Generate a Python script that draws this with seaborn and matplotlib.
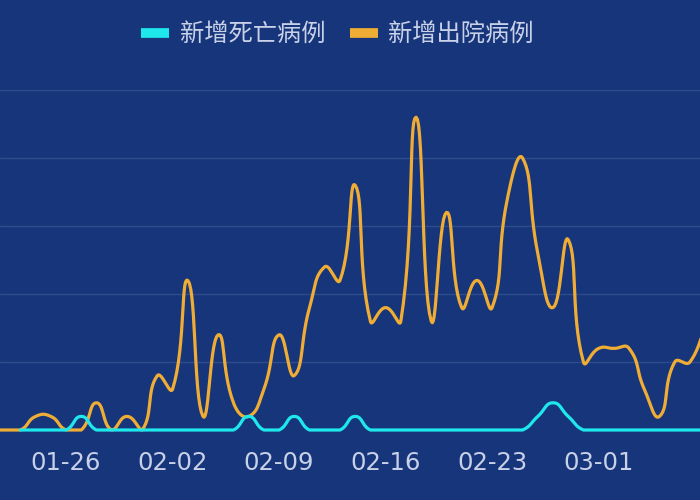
import numpy as np
import pandas as pd
import seaborn as sns
import matplotlib.pyplot as plt
from matplotlib.lines import Line2D

# Daily data (2020)
dates = pd.date_range("2020-01-21", "2020-03-08").strftime("%m-%d").tolist()
discharged = [0, 0, 0, 1, 1, 0, 0, 2, 0, 1, 0, 4, 3, 11, 1, 7, 2, 1, 3, 7,
              4, 9, 12, 11, 18, 8, 9, 8, 23, 8, 16, 9, 11, 9, 17, 20, 13, 9,
              14, 5, 6, 6, 6, 3, 1, 5, 5, 8]
death_start = "01-23"
deaths = [0, 0, 0, 0, 1, 0, 0, 0, 0, 0, 0, 0, 0, 0, 0, 1, 0, 0, 1, 0,
          0, 0, 1, 0, 0, 0, 0, 0, 0, 0, 0, 0, 0, 0, 1, 2, 1, 0, 0, 0,
          0, 0, 0, 0, 0, 0]
tick_labels = ["01-26", "02-02", "02-09", "02-16", "02-23", "03-01"]
series_names = ["新增死亡病例", "新增出院病例"]

BG = "#17357a"
GRID = "#2e4b8b"
TEXT = "#c8d1e8"
CYAN = "#1ee8ec"
ORANGE = "#efad35"

# pixel size of one day / one case, for the echarts style smoothing
SX, SY = 15.22, 13.66


def smooth_line(xs, ys, smooth=0.5, steps=16):
    # bezier smoothing like echarts 4 (control points kept inside the data box)
    pts = np.column_stack([np.asarray(xs, float) * SX, np.asarray(ys, float) * SY])
    lo, hi = pts.min(axis=0), pts.max(axis=0)
    n = len(pts)
    out = [pts[0]]
    cp0 = pts[0].copy()
    t = np.linspace(0, 1, steps)[1:, None]
    for i in range(1, n):
        p, prev = pts[i], pts[i - 1]
        r = 0.5
        v = np.zeros(2)
        if i == n - 1:
            cp1 = p.copy()
        else:
            nxt = pts[i + 1]
            v = nxt - prev
            lp = np.hypot(*(p - prev))
            ln = np.hypot(*(p - nxt))
            r = ln / (ln + lp)
            cp1 = p - v * smooth * (1 - r)
        cp0 = np.clip(cp0, lo, hi)
        cp1 = np.clip(cp1, lo, hi)
        seg = ((1 - t) ** 3 * prev + 3 * (1 - t) ** 2 * t * cp0
               + 3 * (1 - t) * t ** 2 * cp1 + t ** 3 * p)
        out.extend(seg)
        cp0 = p + v * smooth * r
    out = np.array(out)
    return out[:, 0] / SX, out[:, 1] / SY


day0 = dates.index("01-26")
x_dis = np.arange(len(discharged)) - day0
x_dea = np.arange(len(deaths)) + dates.index(death_start) - day0

frames = []
for name, xs, ys in [(series_names[1], x_dis, discharged),
                     (series_names[0], x_dea, deaths)]:
    sx, sy = smooth_line(xs, ys)
    frames.append(pd.DataFrame({"day": sx, "cases": sy, "series": name}))
df = pd.concat(frames, ignore_index=True)

sns.set_theme(style="white")
plt.rcParams["font.family"] = ["Noto Sans CJK SC", "DejaVu Sans"]

fig = plt.figure(figsize=(7, 5), dpi=100, facecolor=BG)
ax = fig.add_axes([0, 0.14, 1, 0.68])
ax.set_facecolor(BG)

palette = {series_names[0]: CYAN, series_names[1]: ORANGE}
sns.lineplot(data=df, x="day", y="cases", hue="series", palette=palette,
             sort=False, estimator=None, linewidth=2.3, legend=False, ax=ax)
for ln in ax.lines:
    ln.set_clip_on(False)
    ln.set_solid_capstyle("round")

ax.set_xlim(-4.34, 41.66)
ax.set_ylim(0, 25)
ax.set_yticks([5, 10, 15, 20, 25])
ax.yaxis.grid(True, color=GRID, linewidth=1)
ax.set_axisbelow(True)
ax.tick_params(axis="y", left=False, labelleft=False)
ticks = [dates.index(t) - day0 for t in tick_labels]
ax.set_xticks(ticks)
ax.set_xticklabels(tick_labels, color=TEXT, fontsize=17.5, family="DejaVu Sans")
ax.tick_params(axis="x", bottom=False, pad=9)
ax.set_xlabel("")
ax.set_ylabel("")
for s in ax.spines.values():
    s.set_visible(False)

handles = [Line2D([], [], color=CYAN, linewidth=7, solid_capstyle="butt"),
           Line2D([], [], color=ORANGE, linewidth=7, solid_capstyle="butt")]
fig.legend(handles, series_names, loc="center", bbox_to_anchor=(0.482, 0.93),
           ncol=2, frameon=False, fontsize=17.5, labelcolor=TEXT,
           handlelength=1.15, handletextpad=0.45, columnspacing=1.0)

fig.savefig("out.png", dpi=100, facecolor=BG)
